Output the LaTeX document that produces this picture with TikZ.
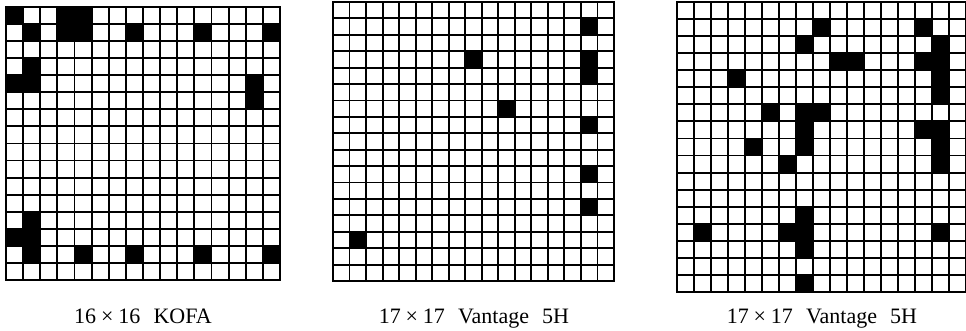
\documentclass[tikz,border=0pt]{standalone}
\usepackage{fontspec}
\setmainfont{Liberation Serif}
\newcommand{\cellgrid}[7]{%
  \foreach \r/\c in {#7} { \fill[cellfill] ({#1+\c*#5},{#2+\r*#6}) rectangle ++(#5,#6); }
  \foreach \i in {0,...,#3} { \draw[gridline] ({#1+\i*#5},#2) -- ++(0,{#4*#6}); }
  \foreach \j in {0,...,#4} { \draw[gridline] (#1,{#2+\j*#6}) -- ++({#3*#5},0); }
}
\newcommand{\tms}{\hspace{0.22em}×\hspace{0.22em}}
\begin{document}
\begin{tikzpicture}[x=1pt,y=-1pt,
  gridline/.style={line width=1.9pt, black, line cap=rect},
  cellfill/.style={fill=black},
  lab/.style={font=\fontsize{22}{24}\selectfont, anchor=base, inner sep=0pt}]
\useasboundingbox (0,0) rectangle (966,331);
\clip (0,0) rectangle (966,331);
% grid 1: 16x16 KOFA
\cellgrid{6}{7}{16}{16}{17.125}{17.06}{0/0,0/3,0/4,1/1,1/3,1/4,1/7,1/11,1/15,3/1,4/0,4/1,4/14,5/14,12/1,13/0,13/1,14/1,14/4,14/7,14/11,14/15}
% grid 2: 17x17 Vantage 5H
\cellgrid{333}{2}{17}{17}{16.53}{16.41}{1/15,3/8,3/15,4/15,6/10,7/15,10/15,12/15,14/1}
% grid 3: 17x17 Vantage 5H
\cellgrid{677}{2}{17}{17}{17.0}{17.06}{1/8,1/14,2/7,2/15,3/9,3/10,3/14,3/15,4/3,4/15,5/15,6/5,6/7,6/8,7/7,7/14,7/15,8/4,8/7,8/15,9/6,9/15,12/7,13/1,13/6,13/7,13/15,14/7,16/7}
\node[lab] (l1) at (143,323) {16\tms16\hspace{0.6em}KOFA};
\node[lab] (l2) at (474,323) {17\tms17\hspace{0.6em}Vantage\hspace{0.6em}5H};
\node[lab] (l3) at (822,323) {17\tms17\hspace{0.6em}Vantage\hspace{0.6em}5H};
\end{tikzpicture}
\end{document}
